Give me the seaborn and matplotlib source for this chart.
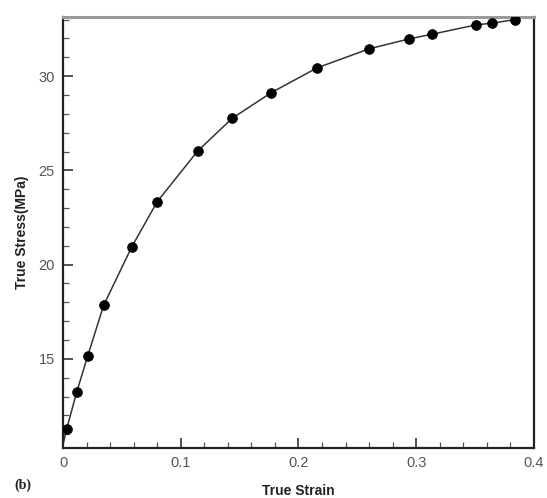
import matplotlib
matplotlib.use("Agg")
import matplotlib.pyplot as plt
import seaborn as sns
import pandas as pd
from matplotlib.ticker import MultipleLocator

# measured true stress-strain points
strain = [0.003, 0.0116, 0.021, 0.0345, 0.0582, 0.080, 0.1144, 0.1438, 0.177,
          0.2158, 0.260, 0.2935, 0.3138, 0.3506, 0.3641, 0.3839]
stress = [11.26, 13.23, 15.16, 17.84, 20.92, 23.34, 26.03, 27.77, 29.13,
          30.44, 31.45, 31.97, 32.23, 32.72, 32.81, 33.00]

# the fitted curve starts at zero strain
curve_strain = [0.0] + strain
curve_stress = [10.45] + stress

x_ticks = [0, 0.1, 0.2, 0.3, 0.4]
x_tick_labels = ["0", "0.1", "0.2", "0.3", "0.4"]
y_ticks = [15, 20, 25, 30]

sns.set_theme(style="white")
plt.rcParams["font.family"] = ["Liberation Sans", "DejaVu Sans"]

fig = plt.figure(figsize=(5.47, 4.98), dpi=100)
ax = fig.add_axes([0.1152, 0.1004, 0.8610, 0.8655])

curve = pd.DataFrame({"strain": curve_strain, "stress": curve_stress})
pts = pd.DataFrame({"strain": strain, "stress": stress})
sns.lineplot(data=curve, x="strain", y="stress", ax=ax, color="#333333",
             linewidth=1.1, sort=False)
sns.scatterplot(data=pts, x="strain", y="stress", ax=ax, color="black",
                s=50, edgecolor="black", linewidth=0.5, zorder=3)

ax.set_xlim(0, 0.4)
ax.set_ylim(10.27, 33.14)
ax.set_xticks(x_ticks)
ax.set_xticklabels(x_tick_labels)
ax.set_yticks(y_ticks)
ax.xaxis.set_minor_locator(MultipleLocator(0.02))
ax.yaxis.set_minor_locator(MultipleLocator(1))

ax.tick_params(axis="both", which="major", direction="in", length=7, width=1.2,
               colors="#333333", labelcolor="#555555", labelsize=10.5, pad=6,
               left=True, bottom=True)
ax.tick_params(axis="both", which="minor", direction="in", length=4, width=0.9,
               colors="#555555", left=True, bottom=True)

for side in ["left", "bottom", "right"]:
    ax.spines[side].set_visible(True)
    ax.spines[side].set_color("#222222")
    ax.spines[side].set_linewidth(1.6)
ax.spines["top"].set_visible(True)
ax.spines["top"].set_color("#9a9a9a")
ax.spines["top"].set_linewidth(2.2)

ax.set_xlabel("True Strain", fontsize=10, fontweight="bold", color="#222222",
              labelpad=10)
ax.set_ylabel("True Stress(MPa)", fontsize=10, fontweight="bold",
              color="#222222", labelpad=7)

fig.text(0.027, 0.018, "(b)", fontsize=10, fontweight="bold",
         family=["Liberation Serif", "DejaVu Serif"], color="#222222")

fig.savefig("out.png", dpi=100)
